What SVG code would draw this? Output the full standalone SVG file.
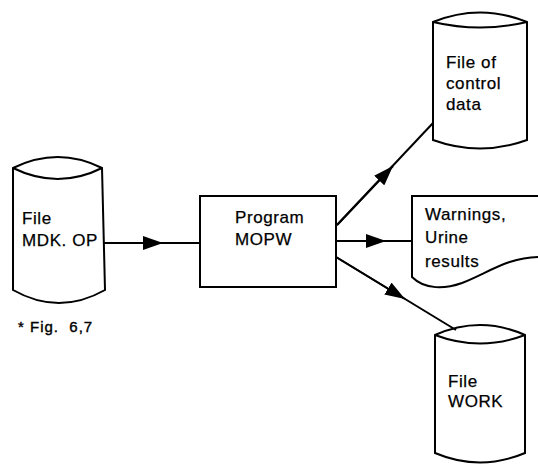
<svg xmlns="http://www.w3.org/2000/svg" width="538" height="465" viewBox="0 0 538 465">
  <defs>
    <marker id="arrow" viewBox="0 0 20 14" refX="20" refY="7" markerWidth="20" markerHeight="14" markerUnits="userSpaceOnUse" orient="auto">
      <path d="M0,0 L20,7 L0,14 Z" fill="#000"/>
    </marker>
  </defs>
  <style>
    .shape { fill: #fff; stroke: #000; stroke-width: 2; }
    .line { fill: none; stroke: #000; stroke-width: 2; }
    .label { font-family: "Liberation Sans", Arial, sans-serif; font-size: 17px; letter-spacing: 0.6px; fill: #000; stroke: #000; stroke-width: 0.25; }
    .note { font-family: "Liberation Sans", Arial, sans-serif; font-size: 15px; letter-spacing: 1px; fill: #000; stroke: #000; stroke-width: 0.4; }
  </style>
  <rect width="538" height="465" fill="#fff"/>

  <!-- input file -->
  <g id="file-mdk-op">
    <path class="shape" d="M13,168 Q58,146 102,168 L105,290 Q59,316 13,290 Z"/>
    <path class="line" d="M13,168 Q58,190 102,168"/>
    <text class="label" x="22" y="224">File</text>
    <text class="label" x="22" y="246">MDK. OP</text>
  </g>

  <!-- program box -->
  <g id="program-mopw">
    <rect class="shape" x="200" y="196" width="136" height="91"/>
    <text class="label" x="235" y="223">Program</text>
    <text class="label" x="235" y="245">MOPW</text>
  </g>

  <!-- control data file -->
  <g id="file-control-data">
    <path class="shape" d="M433,22 Q480,3 527,22 L527,140 Q480,157 433,140 Z"/>
    <path class="line" d="M433,22 Q480,33 527,22"/>
    <text class="label" x="446" y="68">File of</text>
    <text class="label" x="446" y="89">control</text>
    <text class="label" x="446" y="110">data</text>
  </g>

  <!-- printed output document -->
  <g id="warnings-document">
    <path class="shape" d="M540,196 L412,196 L412,277 C425,290 445,289 462,283 C488,273 508,257 540,257"/>
    <text class="label" x="425" y="220">Warnings,</text>
    <text class="label" x="425" y="243">Urine</text>
    <text class="label" x="425" y="267">results</text>
  </g>

  <!-- work file -->
  <g id="file-work">
    <path class="shape" d="M435,335 Q480,315 525,335 L525,453 Q480,472 435,453 Z"/>
    <path class="line" d="M435,335 Q480,352 525,335"/>
    <text class="label" x="448" y="387">File</text>
    <text class="label" x="448" y="407">WORK</text>
  </g>

  <!-- footnote -->
  <text class="note" x="18" y="332" xml:space="preserve">* Fig.  6,7</text>

  <!-- connectors -->
  <g id="connectors">
    <line class="line" x1="103" y1="243" x2="200" y2="243"/>
    <line class="line" x1="103" y1="243" x2="163" y2="243" marker-end="url(#arrow)"/>
    <line class="line" x1="336" y1="241" x2="412" y2="241"/>
    <line class="line" x1="336" y1="241" x2="386" y2="241" marker-end="url(#arrow)"/>
    <line class="line" x1="337" y1="225" x2="433" y2="123"/>
    <line class="line" x1="337" y1="225" x2="393" y2="166" marker-end="url(#arrow)"/>
    <line class="line" x1="336" y1="257" x2="456" y2="330"/>
    <line class="line" x1="336" y1="257" x2="405" y2="299" marker-end="url(#arrow)"/>
  </g>
</svg>
